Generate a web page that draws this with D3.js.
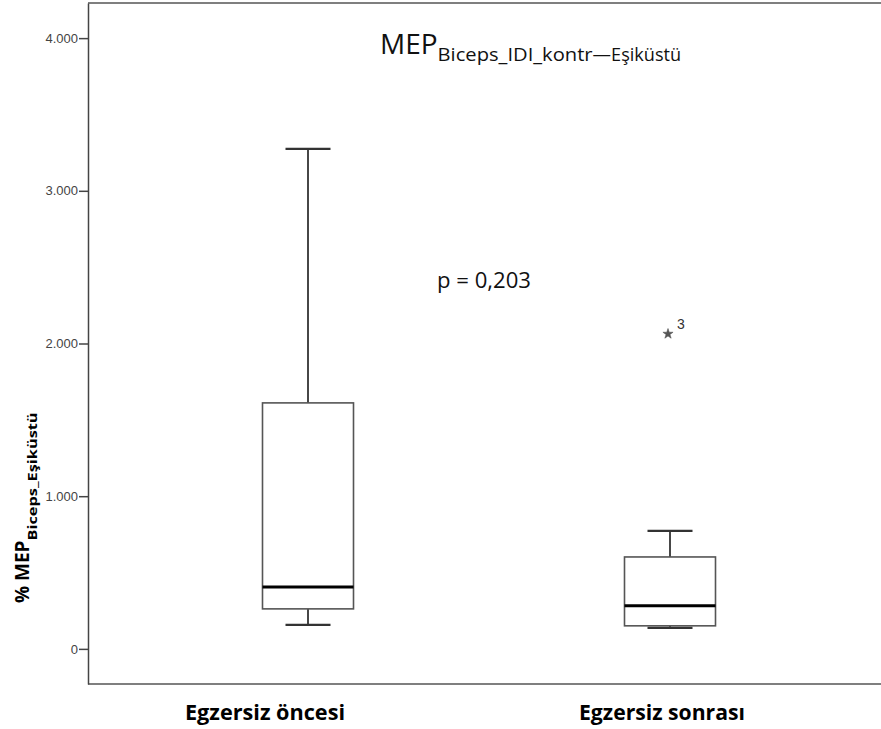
<!DOCTYPE html>
<html><head><meta charset="utf-8">
<script src="https://cdn.jsdelivr.net/npm/d3@7"></script>
<style>body{margin:0;background:#fff}svg{display:block}</style>
</head><body>
<script>
const categories = ["Egzersiz öncesi", "Egzersiz sonrası"];
const whiskerLow  = [157, 137];
const q1          = [262, 151];
const median      = [406, 282];
const q3          = [1611, 602];
const whiskerHigh = [3275, 773];
const outliers    = [{cat: 1, value: 2063, label: "3"}];
const yTicks      = [0, 1000, 2000, 3000, 4000];
const yTickLabels = ["0", "1.000", "2.000", "3.000", "4.000"];
const pText = "p = 0,203";

const W = 881, H = 729;
const svg = d3.select("body").append("svg").attr("width", W).attr("height", H);

const y = d3.scaleLinear().domain([-230, 4230]).range([684, 3]);
const x = d3.scalePoint().domain(categories).range([308, 670]);
const left = 88, right = 881;

// frame
svg.append("line").attr("x1", left).attr("x2", right).attr("y1", y(4230)).attr("y2", y(4230))
  .attr("stroke", "#555").attr("stroke-width", 1.5);
svg.append("line").attr("x1", left).attr("x2", right).attr("y1", y(-230)).attr("y2", y(-230))
  .attr("stroke", "#555").attr("stroke-width", 1.5);

// y axis
const yAxis = d3.axisLeft(y).tickValues(yTicks).tickFormat((d, i) => yTickLabels[i]).tickSize(9).tickSizeOuter(0).tickPadding(1);
const ga = svg.append("g").attr("transform", `translate(${left},0)`).call(yAxis);
ga.select(".domain").attr("stroke", "#444").attr("stroke-width", 1.5);
ga.selectAll(".tick line").attr("stroke", "#444").attr("stroke-width", 1.5);
ga.selectAll(".tick text").attr("fill", "#444").style("font-family", "Liberation Sans, Arial, sans-serif").style("font-size", "13px");

// boxes
const bw = 91, cw = 45;
categories.forEach((c, i) => {
  const cx = x(c);
  const g = svg.append("g");
  g.append("line").attr("x1", cx).attr("x2", cx).attr("y1", y(q3[i])).attr("y2", y(whiskerHigh[i])).attr("stroke", "#333").attr("stroke-width", 1.8);
  g.append("line").attr("x1", cx).attr("x2", cx).attr("y1", y(q1[i])).attr("y2", y(whiskerLow[i])).attr("stroke", "#333").attr("stroke-width", 1.8);
  g.append("line").attr("x1", cx - cw/2).attr("x2", cx + cw/2).attr("y1", y(whiskerHigh[i])).attr("y2", y(whiskerHigh[i])).attr("stroke", "#333").attr("stroke-width", 2.2);
  g.append("line").attr("x1", cx - cw/2).attr("x2", cx + cw/2).attr("y1", y(whiskerLow[i])).attr("y2", y(whiskerLow[i])).attr("stroke", "#333").attr("stroke-width", 2.2);
  g.append("rect").attr("x", cx - bw/2).attr("width", bw).attr("y", y(q3[i])).attr("height", y(q1[i]) - y(q3[i]))
    .attr("fill", "#fff").attr("stroke", "#555").attr("stroke-width", 1.6);
  g.append("line").attr("x1", cx - bw/2).attr("x2", cx + bw/2).attr("y1", y(median[i])).attr("y2", y(median[i])).attr("stroke", "#000").attr("stroke-width", 3);
});

// outliers
outliers.forEach(o => {
  const cx = x(categories[o.cat]) - 2, cy = y(o.value);
  svg.append("path").attr("d", d3.symbol().type(d3.symbolStar).size(32)()).attr("transform", `translate(${cx},${cy})`)
    .attr("fill", "#555").attr("stroke", "#555").attr("stroke-width", 0.6);
  svg.append("text").attr("x", cx + 9).attr("y", cy - 5).text(o.label)
    .style("font-family", "Liberation Sans, Arial, sans-serif").style("font-size", "14px").attr("fill", "#333");
});

// title
const t = svg.append("text").attr("x", 380).attr("y", 54).attr("fill", "#111").style("font-family", "Open Sans, sans-serif");
t.append("tspan").text("MEP").style("font-size", "28px");
t.append("tspan").attr("dy", 7).text("Biceps_IDI_kontr").style("font-size", "18.5px").attr("textLength", 155).attr("lengthAdjust", "spacingAndGlyphs");
t.append("tspan").text("—").style("font-size", "18.5px");
t.append("tspan").text("Eşiküstü").style("font-size", "18.5px").attr("textLength", 70).attr("lengthAdjust", "spacingAndGlyphs");

// p value
svg.append("text").attr("x", 437).attr("y", 288).text(pText).attr("fill", "#111")
  .style("font-family", "Open Sans, sans-serif").style("font-size", "21px").attr("textLength", 94).attr("lengthAdjust", "spacingAndGlyphs");

// y label
const yl = svg.append("text").attr("transform", "translate(29,603) rotate(-90)").attr("fill", "#000")
  .style("font-family", "Open Sans, sans-serif").style("font-weight", "bold");
yl.append("tspan").text("% MEP").style("font-size", "19px");
yl.append("tspan").attr("dy", 8).text("Biceps_Eşiküstü").style("font-size", "12.5px").attr("textLength", 128).attr("lengthAdjust", "spacingAndGlyphs");

// x labels
const xLabelPos = [265, 662];
const xLabelLen = [160, 166];
categories.forEach((c, i) => {
  svg.append("text").attr("x", xLabelPos[i]).attr("y", 720).attr("text-anchor", "middle").text(c)
    .attr("textLength", xLabelLen[i]).attr("lengthAdjust", "spacingAndGlyphs")
    .attr("fill", "#000").style("font-family", "Open Sans, sans-serif").style("font-weight", "bold").style("font-size", "21px");
});
</script>
</body></html>
